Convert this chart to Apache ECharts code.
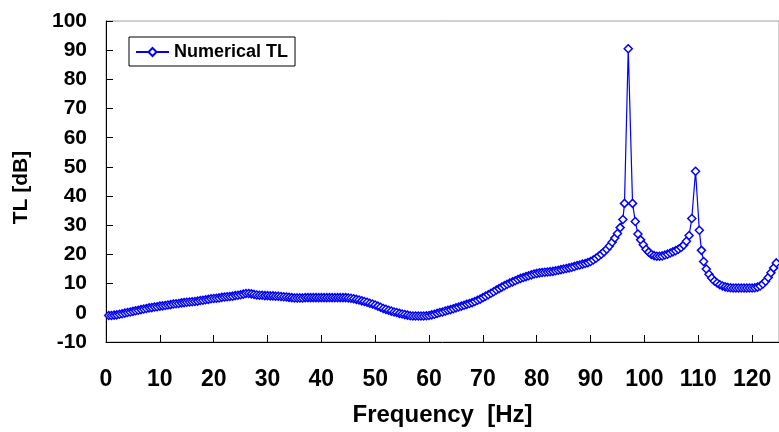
<!DOCTYPE html>
<html>
<head>
<meta charset="utf-8">
<script src="https://cdn.jsdelivr.net/npm/echarts@6/dist/echarts.min.js"></script>
<style>
html,body{margin:0;padding:0;background:#fff;}
#chart{width:779px;height:432px;}
</style>
</head>
<body>
<div id="chart"></div>
<script>
var seriesName = 'Numerical TL';
var xTitle = 'Frequency  [Hz]';
var yTitle = 'TL [dB]';

var freq = [
0.5,1,1.5,2,2.5,3,3.5,4,4.5,5,5.5,6,6.5,7,7.5,8,8.5,9,9.5,10,
10.5,11,11.5,12,12.5,13,13.5,14,14.5,15,15.5,16,16.5,17,17.5,18,18.5,19,19.5,20,
20.5,21,21.5,22,22.5,23,23.5,24,24.5,25,25.5,26,26.5,27,27.5,28,28.5,29,29.5,30,
30.5,31,31.5,32,32.5,33,33.5,34,34.5,35,35.5,36,36.5,37,37.5,38,38.5,39,39.5,40,
40.5,41,41.5,42,42.5,43,43.5,44,44.5,45,45.5,46,46.5,47,47.5,48,48.5,49,49.5,50,
50.5,51,51.5,52,52.5,53,53.5,54,54.5,55,55.5,56,56.5,57,57.5,58,58.5,59,59.5,60,
60.5,61,61.5,62,62.5,63,63.5,64,64.5,65,65.5,66,66.5,67,67.5,68,68.5,69,69.5,70,
70.5,71,71.5,72,72.5,73,73.5,74,74.5,75,75.5,76,76.5,77,77.5,78,78.5,79,79.5,80,
80.5,81,81.5,82,82.5,83,83.5,84,84.5,85,85.5,86,86.5,87,87.5,88,88.5,89,89.5,90,
90.5,91,91.5,92,92.5,93,93.5,94,94.5,95,95.5,96,96.3,97,97.8,98.3,98.8,99.3,99.8,100.3,
100.8,101.3,101.8,102.3,102.8,103.3,103.8,104.3,104.8,105.3,105.8,106.3,106.8,107.3,107.8,108.3,108.8,109.5,110.2,
110.6,111,111.5,112,112.5,113,113.5,114,114.5,115,115.5,116,116.5,117,117.5,118,118.5,119,119.5,120,
120.5,121,121.5,122,122.5,123,123.5,124,124.5
];

var tl = [
-0.9,-0.9,-0.8,-0.7,-0.5,-0.3,-0.1,0.1,0.3,0.5,0.7,0.9,1.1,1.3,1.5,1.7,1.8,2.0,2.1,2.3,
2.4,2.5,2.7,2.8,3.0,3.1,3.2,3.4,3.5,3.6,3.7,3.8,3.9,4.0,4.2,4.3,4.5,4.6,4.8,4.9,
5.0,5.1,5.3,5.4,5.5,5.6,5.7,5.9,6.0,6.2,6.4,6.6,6.6,6.5,6.3,6.1,6.0,6.0,5.9,5.9,
5.8,5.8,5.7,5.7,5.6,5.5,5.4,5.3,5.2,5.1,5.1,5.1,5.1,5.2,5.2,5.2,5.2,5.2,5.2,5.2,
5.2,5.2,5.2,5.2,5.2,5.2,5.2,5.2,5.2,5.1,5.0,4.8,4.6,4.4,4.1,3.9,3.6,3.3,3.0,2.7,
2.3,1.9,1.5,1.2,0.9,0.6,0.3,0.1,-0.2,-0.4,-0.6,-0.8,-1.0,-1.1,-1.1,-1.1,-1.1,-1.1,-1.0,-0.9,
-0.7,-0.5,-0.2,0.1,0.3,0.6,0.9,1.1,1.4,1.7,2.0,2.3,2.6,2.9,3.2,3.5,3.9,4.3,4.7,5.2,
5.7,6.2,6.7,7.2,7.8,8.3,8.8,9.3,9.8,10.2,10.6,11.0,11.4,11.8,12.1,12.4,12.7,13.0,13.3,13.5,
13.7,13.8,13.9,14.0,14.1,14.2,14.4,14.6,14.8,15.0,15.2,15.4,15.6,15.9,16.2,16.4,16.7,16.9,17.2,17.6,
18.1,18.7,19.4,20.1,20.9,21.8,22.9,24.2,25.6,27.2,29.2,32.0,37.5,90.5,37.5,31.3,27.0,25.0,23.3,21.8,
20.8,20.0,19.6,19.4,19.4,19.5,19.8,20.1,20.5,20.9,21.3,21.8,22.4,23.2,24.5,26.5,32.3,48.5,28.3,
21.4,17.6,15.0,13.2,11.9,10.9,10.2,9.6,9.2,8.9,8.7,8.6,8.5,8.5,8.5,8.5,8.5,8.5,8.5,8.5,
8.6,8.8,9.2,9.9,10.8,12.1,13.7,15.4,17.1
];

var data = freq.map(function (f, i) { return [f, tl[i]]; });

var FONT = '"Liberation Sans", Arial, sans-serif';
var chart = echarts.init(document.getElementById('chart'), null, {renderer: 'canvas'});
chart.setOption({
  animation: false,
  backgroundColor: '#ffffff',
  grid: {
    left: 106, top: 21, right: -2, bottom: 89,
    show: true, borderColor: '#a0a0a0', borderWidth: 1, backgroundColor: 'transparent'
  },
  legend: {
    show: true,
    left: 129, top: 37,
    orient: 'horizontal',
    backgroundColor: '#ffffff',
    borderColor: '#000000', borderWidth: 1, borderRadius: 0,
    padding: [6, 7, 5, 6],
    itemWidth: 33, itemHeight: 10, itemGap: 5,
    textStyle: {fontFamily: FONT, fontWeight: 'bold', fontSize: 18, color: '#000000'},
    data: [seriesName]
  },
  xAxis: {
    type: 'value',
    min: 0, max: 125, interval: 10,
    name: xTitle, nameLocation: 'middle', nameGap: 61,
    nameTextStyle: {fontFamily: FONT, fontWeight: 'bold', fontSize: 24, color: '#000000'},
    axisLine: {show: true, onZero: false, lineStyle: {color: '#000000', width: 1}},
    axisTick: {show: true, inside: true, length: 7, lineStyle: {color: '#000000', width: 1}},
    axisLabel: {fontFamily: FONT, fontWeight: 'bold', fontSize: 23, color: '#000000', margin: 26,
      showMaxLabel: false,
      formatter: function (v) { return (v % 10 === 0 && v <= 120) ? String(v) : ''; }},
    splitLine: {show: false}
  },
  yAxis: {
    type: 'value',
    min: -10, max: 100, interval: 10,
    name: yTitle, nameLocation: 'middle', nameGap: 74, nameRotate: 90,
    nameTextStyle: {fontFamily: FONT, fontWeight: 'bold', fontSize: 21, color: '#000000', padding: [0, 12, 0, 0]},
    axisLine: {show: true, onZero: false, lineStyle: {color: '#000000', width: 1}},
    axisTick: {show: true, inside: true, length: 7, lineStyle: {color: '#000000', width: 1}},
    axisLabel: {fontFamily: FONT, fontWeight: 'bold', fontSize: 21, color: '#000000', margin: 19},
    splitLine: {show: false}
  },
  series: [{
    name: seriesName,
    type: 'line',
    data: data,
    symbol: 'diamond',
    symbolSize: 8,
    showAllSymbol: true,
    lineStyle: {color: '#0000ff', width: 1.2},
    itemStyle: {color: '#ffffff', borderColor: '#0000ff', borderWidth: 1.5}
  }]
});
</script>
</body>
</html>
